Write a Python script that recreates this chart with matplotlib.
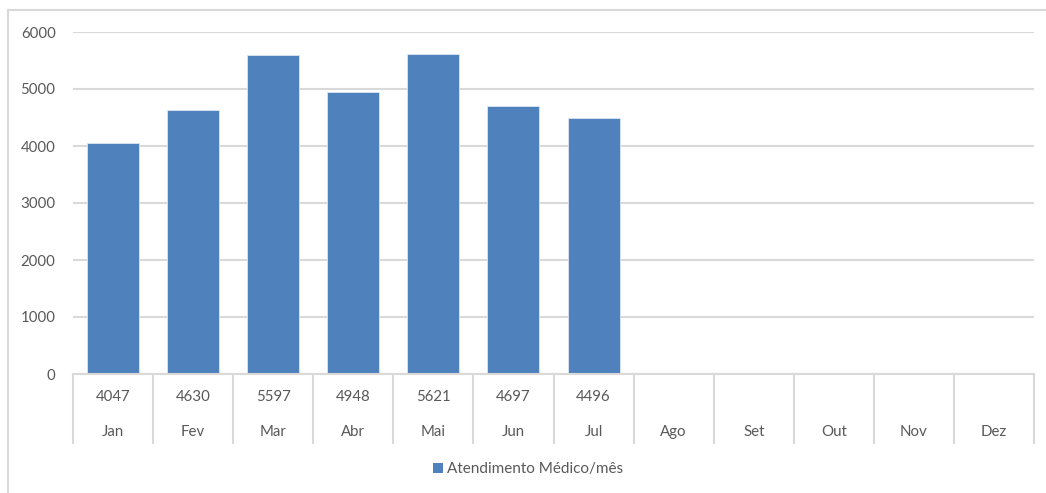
import matplotlib.pyplot as plt
from matplotlib.lines import Line2D
from matplotlib.patches import Patch
import matplotlib.transforms as mtransforms

plt.rcParams["font.family"] = ["Lato", "DejaVu Sans"]

# --- data ---
months = ["Jan", "Fev", "Mar", "Abr", "Mai", "Jun", "Jul",
          "Ago", "Set", "Out", "Nov", "Dez"]
atendimentos = [4047, 4630, 5597, 4948, 5621, 4697, 4496]
y_ticks = [0, 1000, 2000, 3000, 4000, 5000, 6000]
series_name = "Atendimento Médico/mês"

BAR_COLOR = "#4f81bd"
GRID_COLOR = "#d9d9d9"
TEXT_COLOR = "#595959"

fig = plt.figure(figsize=(10.46, 4.93), dpi=100)
ax = fig.add_axes([73 / 1046, 1 - 374 / 493, (1034 - 73) / 1046, (374 - 32) / 493])

x_pos = range(len(atendimentos))
ax.bar(x_pos, atendimentos, width=0.65, color=BAR_COLOR,
       edgecolor="#dce6f2", linewidth=0.6, zorder=3)

ax.set_xlim(-0.5, len(months) - 0.5)
ax.set_ylim(0, 6000)
ax.set_yticks(y_ticks)
ax.set_yticklabels([str(v) for v in y_ticks], fontsize=10.8, color=TEXT_COLOR)
ax.tick_params(axis="y", length=0, pad=12.5)
ax.set_xticks([])

ax.grid(axis="y", color=GRID_COLOR, linewidth=1.5, zorder=0)
for side in ["top", "right", "left"]:
    ax.spines[side].set_visible(False)
ax.spines["bottom"].set_color(GRID_COLOR)
ax.spines["bottom"].set_linewidth(1.5)
ax.spines["bottom"].set_zorder(4)

# --- data table under the axis ---
trans = mtransforms.blended_transform_factory(ax.transData, ax.transAxes)
table_bottom = -(443 - 374) / 342
for i in range(len(months) + 1):
    ax.add_line(Line2D([i - 0.5, i - 0.5], [0, table_bottom], transform=trans,
                       color=GRID_COLOR, linewidth=1.5, clip_on=False))

for i, month in enumerate(months):
    if i < len(atendimentos):
        ax.text(i, -23 / 342, str(atendimentos[i]), transform=trans,
                ha="center", va="center", fontsize=10.8, color=TEXT_COLOR)
    ax.text(i, -58 / 342, month, transform=trans,
            ha="center", va="center", fontsize=10.8, color=TEXT_COLOR)

# --- legend ---
handle = Patch(facecolor=BAR_COLOR, edgecolor="none")
fig.legend([handle], [series_name], loc="center",
           bbox_to_anchor=(528 / 1046, 1 - 469 / 493), frameon=False,
           fontsize=11, labelcolor=TEXT_COLOR, handlelength=0.65,
           handleheight=0.65, handletextpad=0.3)

# --- chart border (cropped chart frame) ---
fig.add_artist(Line2D([8 / 1046, 8 / 1046], [0, 1 - 10 / 493],
                      color=GRID_COLOR, linewidth=1.5))
fig.add_artist(Line2D([8 / 1046, 1], [1 - 10 / 493, 1 - 10 / 493],
                      color=GRID_COLOR, linewidth=1.5))

fig.savefig("out.png", dpi=100, facecolor="white")
